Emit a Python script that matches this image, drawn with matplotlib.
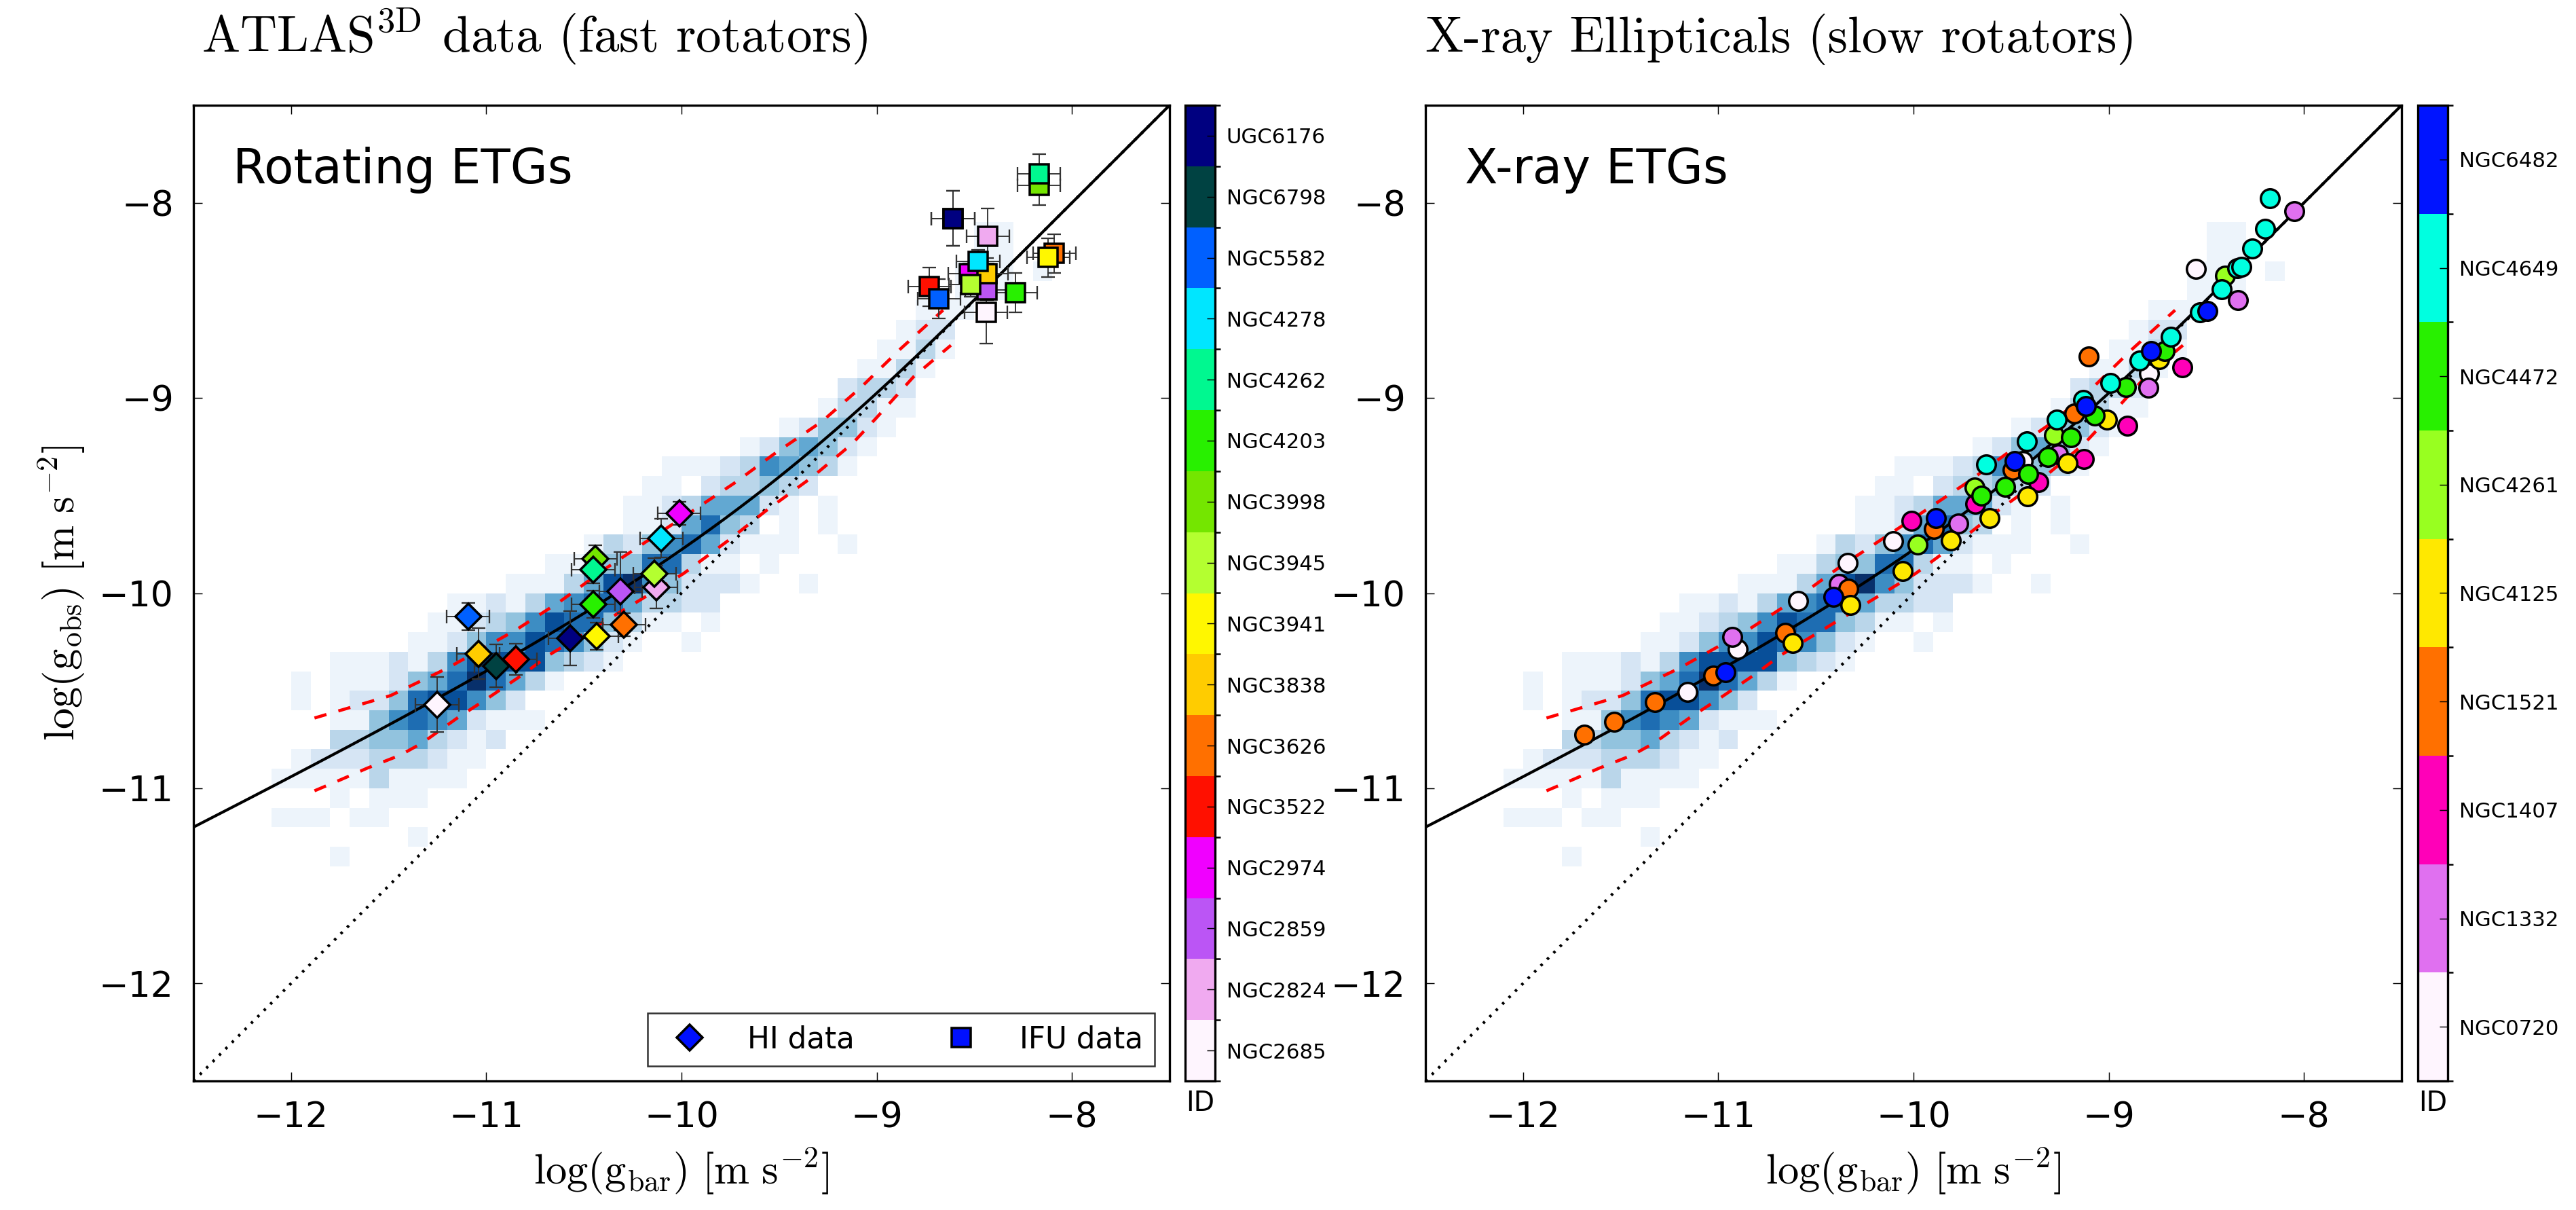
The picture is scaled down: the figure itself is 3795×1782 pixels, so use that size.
import numpy as np
import matplotlib
matplotlib.use("Agg")
import matplotlib.pyplot as plt
from matplotlib.colors import ListedColormap, BoundaryNorm, Normalize
from matplotlib.cm import ScalarMappable
from matplotlib.lines import Line2D

plt.rcParams["font.family"] = ["DejaVu Sans"]
plt.rcParams["mathtext.fontset"] = "cm"
plt.rcParams["lines.scale_dashes"] = False

# ---------------------------------------------------------------------------
# Background density of the rotating-galaxy sample, 0.1 dex cells.
# Each entry: (upper edge of the row in log g_obs, first column index counted
# from log g_bar = -12.5, density level per cell; 0 = empty)
HIST_ROWS = [
    (-8.1, 40, "11"),
    (-8.2, 40, "11"),
    (-8.3, 39, "11101"),
    (-8.4, 39, "111"),
    (-8.5, 37, "111"),
    (-8.6, 36, "122"),
    (-8.7, 35, "1131"),
    (-8.8, 34, "1131"),
    (-8.9, 33, "2332"),
    (-9.0, 32, "13311"),
    (-9.1, 30, "124421"),
    (-9.2, 28, "1245421"),
    (-9.3, 24, "1112365431"),
    (-9.4, 23, "110233432"),
    (-9.5, 22, "11235552101"),
    (-9.6, 22, "11257430101"),
    (-9.7, 20, "13246752111001"),
    (-9.8, 18, "113447731101"),
    (-9.9, 16, "1113589642221001"),
    (-10.0, 13, "11213567753322"),
    (-10.1, 12, "112346877431101"),
    (-10.2, 11, "112466876421001"),
    (-10.3, 7, "111213688884321"),
    (-10.4, 5, "10111245797531"),
    (-10.5, 5, "101224788642"),
    (-10.6, 7, "11467652111"),
    (-10.7, 7, "334453212"),
    (-10.8, 5, "1222333211"),
    (-10.9, 4, "1111131111"),
    (-11.0, 7, "10111"),
    (-11.1, 4, "111011"),
    (-11.2, 11, "1"),
    (-11.3, 7, "1"),
]

# Scatter band of the rotating sample (binned percentiles)
BAND_UP_X = [-11.88, -11.49, -11.20, -10.85, -10.625, -10.38, -10.02, -9.72,
             -9.53, -9.28, -9.08, -8.88, -8.66]
BAND_UP_Y = [-10.64, -10.525, -10.385, -10.19, -10.045, -9.868, -9.63, -9.43,
             -9.29, -9.12, -8.945, -8.75, -8.55]
BAND_LO_X = [-11.88, -11.75, -11.61, -11.44, -11.33, -11.15, -10.99, -10.81,
             -10.68, -10.22, -9.99, -9.76, -9.57, -9.33, -9.125, -9.0, -8.81, -8.62]
BAND_LO_Y = [-11.013, -10.958, -10.897, -10.83, -10.769, -10.641, -10.537, -10.415,
             -10.318, -10.04, -9.90, -9.73, -9.58, -9.405, -9.234, -9.10, -8.89, -8.73]

G_DAGGER = 1.2e-10  # acceleration scale of the radial acceleration relation

# ---------------------------------------------------------------------------
# ATLAS3D fast rotators (colorbar order, bottom to top)
ATLAS_IDS = ["NGC2685", "NGC2824", "NGC2859", "NGC2974", "NGC3522", "NGC3626",
             "NGC3838", "NGC3941", "NGC3945", "NGC3998", "NGC4203", "NGC4262",
             "NGC4278", "NGC5582", "NGC6798", "UGC6176"]
ATLAS_COLORS = ["#fef5fe", "#f0aaf0", "#bb55f5", "#f000ff", "#ff1000", "#ff7000",
                "#ffcc00", "#fff700", "#b4ff30", "#74e600", "#28f000", "#00f890",
                "#00e6ff", "#0060ff", "#004242", "#000080"]

# HI data (outer radii)
HI_GBAR = [-11.252, -10.130, -10.312, -10.011, -10.849, -10.294, -11.041, -10.434,
           -10.138, -10.441, -10.452, -10.452, -10.103, -11.093, -10.950, -10.570]
HI_GOBS = [-10.571, -9.970, -9.990, -9.591, -10.339, -10.162, -10.310, -10.222,
           -9.901, -9.826, -10.057, -9.880, -9.719, -10.121, -10.373, -10.231]
HI_GOBS_ERR = [0.14, 0.11, 0.20, 0.06, 0.08, 0.06, 0.13, 0.07,
               0.08, 0.07, 0.07, 0.07, 0.10, 0.07, 0.11, 0.14]

# IFU data (inner radii)
IFU_GBAR = [-8.440, -8.431, -8.437, -8.524, -8.730, -8.090, -8.437, -8.121,
            -8.519, -8.169, -8.289, -8.169, -8.481, -8.681, -8.609, -8.609]
IFU_GOBS = [-8.561, -8.170, -8.448, -8.362, -8.430, -8.260, -8.362, -8.281,
            -8.420, -7.910, -8.460, -7.851, -8.300, -8.492, -8.080, -8.080]
IFU_GOBS_ERR = [0.16, 0.14, 0.05, 0.05, 0.10, 0.10, 0.08, 0.10,
                0.06, 0.10, 0.10, 0.10, 0.06, 0.10, 0.14, 0.14]
GBAR_ERR = 0.11

# ---------------------------------------------------------------------------
# X-ray ellipticals (colorbar order, bottom to top)
XRAY_IDS = ["NGC0720", "NGC1332", "NGC1407", "NGC1521", "NGC4125",
            "NGC4261", "NGC4472", "NGC4649", "NGC6482"]
XRAY_COLORS = ["#fef5fe", "#e070f0", "#ff00b8", "#ff7000", "#ffe800",
               "#98ff20", "#28f000", "#00ffe0", "#0014ff"]

XRAY_GBAR = [
    [-11.157, -10.901, -10.591, -10.338, -10.105, -9.441, -8.792, -8.553],
    [-10.929, -10.381, -9.771, -9.261, -8.796, -8.339, -8.049],
    [-10.010, -9.684, -9.361, -9.128, -8.906, -8.622],
    [-11.688, -11.533, -11.325, -11.026, -10.657, -10.335, -9.896, -9.491, -9.176, -9.102],
    [-10.619, -10.322, -10.056, -9.810, -9.611, -9.417, -9.211, -9.008, -8.742],
    [-9.980, -9.686, -9.281, -8.403],
    [-9.654, -9.530, -9.411, -9.311, -9.195, -9.072, -8.912, -8.712],
    [-9.627, -9.421, -9.265, -9.131, -8.992, -8.842, -8.682, -8.533, -8.423,
     -8.343, -8.322, -8.264, -8.198, -8.174],
    [-10.963, -10.409, -9.886, -9.481, -9.118, -8.782, -8.493],
]
XRAY_GOBS = [
    [-10.506, -10.287, -10.040, -9.845, -9.735, -9.322, -8.874, -8.340],
    [-10.225, -9.952, -9.643, -9.290, -8.949, -8.497, -8.043],
    [-9.628, -9.544, -9.430, -9.314, -9.143, -8.843],
    [-10.727, -10.659, -10.559, -10.424, -10.205, -9.979, -9.671, -9.368, -9.081, -8.789],
    [-10.256, -10.062, -9.886, -9.730, -9.617, -9.504, -9.333, -9.112, -8.801],
    [-9.752, -9.459, -9.190, -8.374],
    [-9.500, -9.454, -9.389, -9.303, -9.201, -9.089, -8.944, -8.760],
    [-9.341, -9.221, -9.112, -9.011, -8.922, -8.809, -8.685, -8.561, -8.444,
     -8.335, -8.327, -8.234, -8.132, -7.976],
    [-10.404, -10.018, -9.617, -9.322, -9.042, -8.760, -8.553],
]

LIM = (-12.5, -7.5)
TICKS = [-12, -11, -10, -9, -8]

# ---------------------------------------------------------------------------
W, H = 3795, 1782
fig = plt.figure(figsize=(W / 300, H / 300), dpi=300)


def frac_box(x0, x1, y0, y1):
    return [x0 / W, 1 - y1 / H, (x1 - x0) / W, (y1 - y0) / H]


ax1 = fig.add_axes(frac_box(285, 1723, 155, 1592))
cax1 = fig.add_axes(frac_box(1746, 1790, 155, 1592))
ax2 = fig.add_axes(frac_box(2100, 3538, 155, 1592))
cax2 = fig.add_axes(frac_box(3562, 3606, 155, 1592))

# density grid
density = np.zeros((50, 50))
for ytop, k0, levels in HIST_ROWS:
    j = int(round((ytop - 0.1 + 12.5) / 0.1))
    for i, ch in enumerate(levels):
        density[j, k0 + i] = int(ch)
density = np.ma.masked_equal(density, 0)
blues = plt.get_cmap("Blues").copy()
blues.set_bad(alpha=0)

gbar_line = np.linspace(-12.5, -7.5, 400)
gb = 10 ** gbar_line
gobs_line = np.log10(gb / (1 - np.exp(-np.sqrt(gb / G_DAGGER))))


def base_panel(ax):
    ax.imshow(density, extent=(-12.5, -7.5, -12.5, -7.5), origin="lower",
              cmap=blues, norm=Normalize(0.6, 9), interpolation="nearest",
              aspect="auto", zorder=0)
    ax.plot(LIM, LIM, color="k", lw=1.0, dashes=(0.9, 2.3), zorder=1)
    ax.plot(gbar_line, gobs_line, color="k", lw=1.0, zorder=2)
    ax.plot(BAND_UP_X, BAND_UP_Y, color="red", lw=1.1, dashes=(4.4, 4.4), zorder=2)
    ax.plot(BAND_LO_X, BAND_LO_Y, color="red", lw=1.1, dashes=(4.4, 4.4), zorder=2)
    ax.set_xlim(LIM)
    ax.set_ylim(LIM)
    ax.set_xticks(TICKS)
    ax.set_yticks(TICKS)
    ax.tick_params(direction="in", top=True, right=True, length=3.2, width=0.35,
                   labelsize=12.5, pad=7)
    for sp in ax.spines.values():
        sp.set_linewidth(0.8)
    ax.set_xlabel(r"$\log(\mathrm{g_{bar}})\ [\mathrm{m\ s^{-2}}]$", fontsize=15, labelpad=4)


def panel_title(ax, x, text):
    ax.text(x, 1.054, text, transform=ax.transAxes, fontsize=18,
            fontfamily="cmr10", math_fontfamily="cm", va="baseline", ha="left")


def id_colorbar(cax, names, colors):
    n = len(names)
    cmap = ListedColormap(colors)
    norm = BoundaryNorm(np.arange(n + 1), n)
    cb = fig.colorbar(ScalarMappable(norm=norm, cmap=cmap), cax=cax,
                      ticks=np.arange(n) + 0.5)
    cb.set_ticklabels(names)
    cb.ax.tick_params(direction="in", length=3, width=0.35, labelsize=7.4, pad=4)
    cb.outline.set_linewidth(0.8)
    cb.ax.set_xlabel("ID", fontsize=9.5, labelpad=3)
    return cb


# ---- left panel: ATLAS3D fast rotators
base_panel(ax1)
ax1.set_ylabel(r"$\log(\mathrm{g_{obs}})\ [\mathrm{m\ s^{-2}}]$", fontsize=15, labelpad=4)
err_kw = dict(fmt="none", ecolor="#333333", elinewidth=0.45, capsize=2.3,
              capthick=0.55, zorder=3)
ax1.errorbar(HI_GBAR, HI_GOBS, xerr=GBAR_ERR, yerr=HI_GOBS_ERR, **err_kw)
ax1.errorbar(IFU_GBAR, IFU_GOBS, xerr=GBAR_ERR, yerr=IFU_GOBS_ERR, **err_kw)
for i, col in enumerate(ATLAS_COLORS):
    ax1.plot(HI_GBAR[i], HI_GOBS[i], "D", ms=6.3, mfc=col, mec="k", mew=0.85,
             zorder=4 + i * 0.01)
    ax1.plot(IFU_GBAR[i], IFU_GOBS[i], "s", ms=6.7, mfc=col, mec="k", mew=0.85,
             zorder=4 + i * 0.01)
ax1.text(0.04, 0.92, "Rotating ETGs", transform=ax1.transAxes, fontsize=17,
         va="baseline", ha="left")
handles = [Line2D([], [], ls="none", marker="D", ms=6.6, mfc="#0010ff", mec="k",
                  mew=0.85, label="HI data"),
           Line2D([], [], ls="none", marker="s", ms=6.5, mfc="#0010ff", mec="k",
                  mew=0.85, label="IFU data")]
leg = ax1.legend(handles=handles, loc="lower right", ncol=2, fontsize=10.5,
                 frameon=True, fancybox=False, numpoints=1, borderaxespad=0.5,
                 columnspacing=2.6, handletextpad=0.95)
leg.get_frame().set_edgecolor("k")
leg.get_frame().set_linewidth(0.6)
panel_title(ax1, 0.008, r"ATLAS$^{\mathrm{3D}}$ data (fast rotators)")
id_colorbar(cax1, ATLAS_IDS, ATLAS_COLORS)

# ---- right panel: X-ray ellipticals
base_panel(ax2)
for i, col in enumerate(XRAY_COLORS):
    ax2.plot(XRAY_GBAR[i], XRAY_GOBS[i], "o", ls="none", ms=6.6, mfc=col,
             mec="k", mew=0.85, zorder=4 + i * 0.01)
ax2.text(0.04, 0.92, "X-ray ETGs", transform=ax2.transAxes, fontsize=17,
         va="baseline", ha="left")
panel_title(ax2, 0.0, "X-ray Ellipticals (slow rotators)")
id_colorbar(cax2, XRAY_IDS, XRAY_COLORS)

fig.savefig("out.png", dpi=300)
